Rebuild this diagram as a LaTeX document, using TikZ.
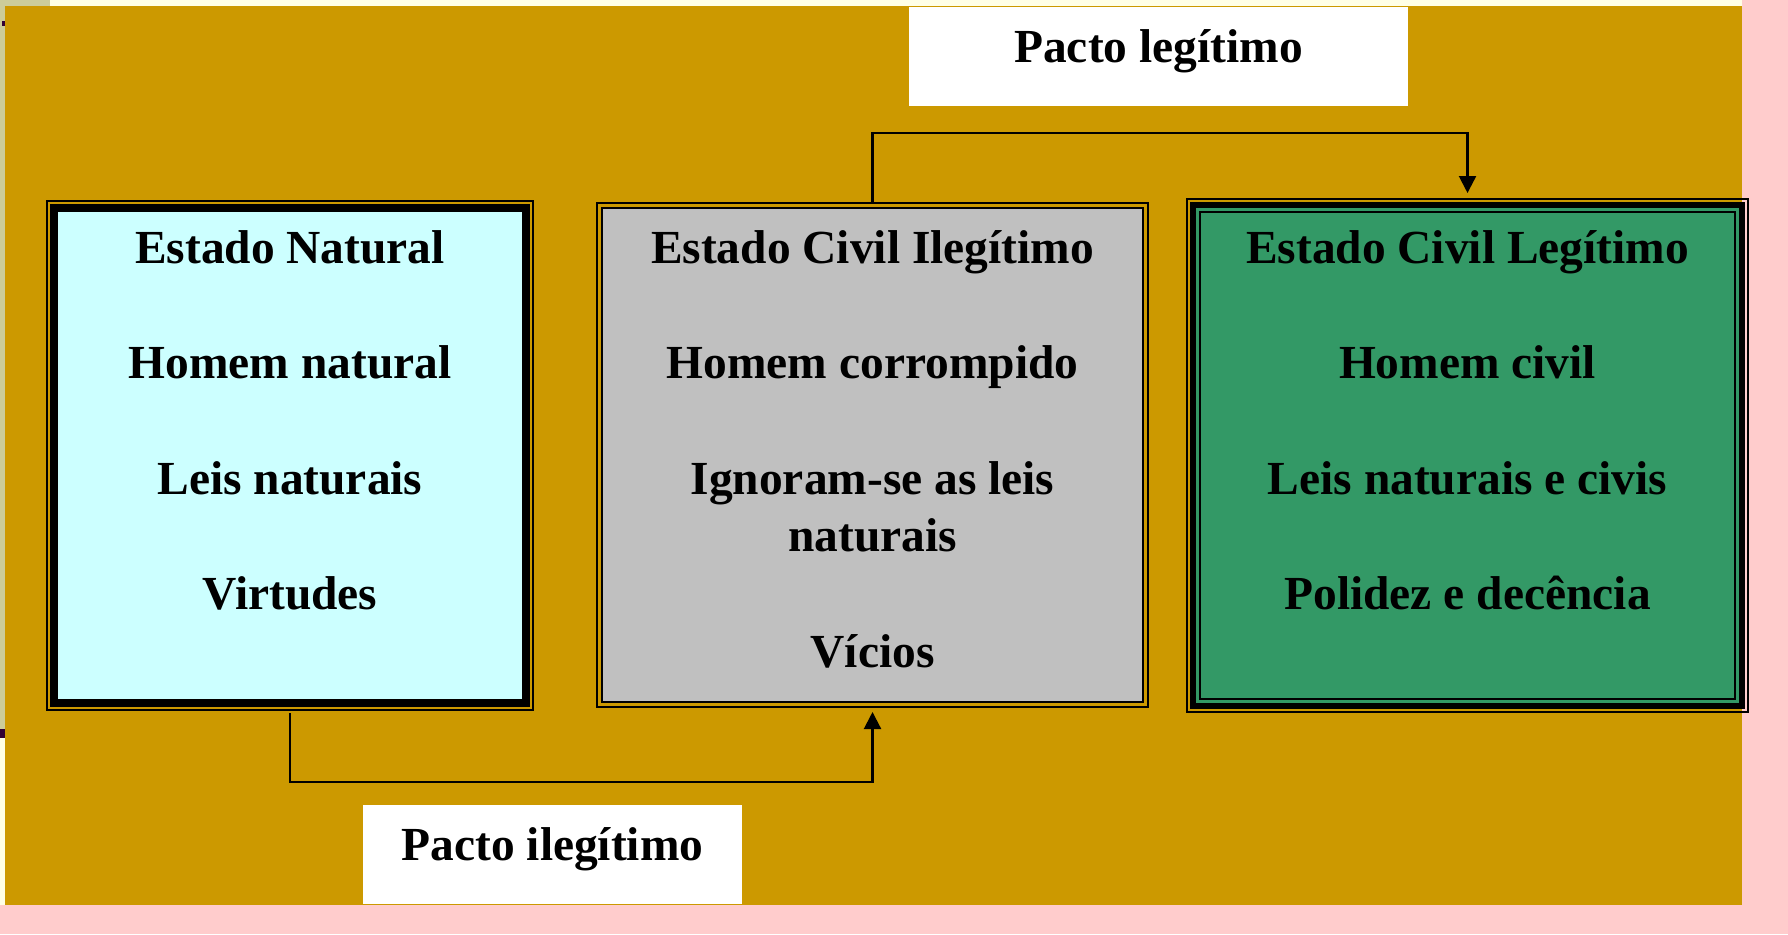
\documentclass[tikz,border=0pt]{standalone}
\usepackage{fontspec}
\setmainfont{Liberation Serif}
\usepackage{xcolor}
\usetikzlibrary{arrows.meta, positioning, calc}

\definecolor{gold}{HTML}{CC9900}
\definecolor{rosa}{HTML}{FFCCCC}
\definecolor{natural}{HTML}{CCFFFF}
\definecolor{ilegit}{HTML}{C0C0C0}
\definecolor{legit}{HTML}{339966}
\definecolor{beige}{HTML}{CCCC99}
\definecolor{cream}{HTML}{FFFFE6}
\definecolor{plum}{HTML}{330033}
\newcommand{\pula}{\\[16.4pt]}

\begin{document}
\begin{tikzpicture}[
    frame/.style={rectangle, draw, line width=0.02cm, outer sep=0pt, inner sep=0pt},
    txt/.style={font=\bfseries\fontsize{13.5}{16.4}\selectfont, align=center, inner sep=0pt},
    pacto/.style={rectangle, fill=white, minimum width=#1, minimum height=0.99cm, inner sep=0pt, text height=0.6em, text depth=0.285em, font=\bfseries\fontsize{13.5}{16.4}\selectfont},
    link/.style={-{Triangle[width=0.17cm, length=0.17cm]}, line width=0.022cm}
]
    \useasboundingbox (0,0) rectangle (17.88,9.34);
    \fill[rosa] (0,0) rectangle (17.88,9.34);
    \fill[cream] (0,9.28) rectangle (17.42,9.34);
    \fill[beige] (0,9.28) rectangle (0.5,9.34);
    \fill[beige] (0,2.05) rectangle (0.05,9.34);
    \fill[plum] (0,1.96) rectangle (0.05,2.05);
    \fill[cream] (0,0.29) rectangle (0.05,1.96);
    \fill[plum] (0.02,9.08) rectangle (0.05,9.13);
    \fill[gold] (0.05,0.29) rectangle (17.42,9.28);

    \node[frame, minimum width=4.86cm, minimum height=5.09cm] (natural) at (2.90,4.785) {};
    \draw[line width=0.08cm, fill=natural] ($(natural.north west)+(0.07,-0.07)$) rectangle ($(natural.south east)+(-0.07,0.07)$);

    \node[frame, minimum width=5.51cm, minimum height=5.04cm] (ilegitimo) at (8.725,4.79) {};
    \draw[line width=0.02cm, fill=ilegit] ($(ilegitimo.north west)+(0.05,-0.05)$) rectangle ($(ilegitimo.south east)+(-0.05,0.05)$);

    \node[frame, minimum width=5.61cm, minimum height=5.13cm] (legitimo) at (14.675,4.785) {};
    \draw[line width=0.06cm, fill=legit] ($(legitimo.north west)+(0.06,-0.06)$) rectangle ($(legitimo.south east)+(-0.06,0.06)$);
    \draw[line width=0.02cm] ($(legitimo.north west)+(0.13,-0.13)$) rectangle ($(legitimo.south east)+(-0.13,0.13)$);

    \node[txt, below=0.29cm of natural.north] (tnatural) {Estado Natural\pula Homem natural\pula Leis naturais\pula Virtudes};
    \node[txt, below=0.27cm of ilegitimo.north] (tilegitimo) {Estado Civil Ilegítimo\pula Homem corrompido\pula Ignoram-se as leis\\naturais\pula Vícios};
    \node[txt, below=0.31cm of legitimo.north] (tlegitimo) {Estado Civil Legítimo\pula Homem civil\pula Leis naturais e civis\pula Polidez e decência};

    \node[pacto=4.99cm] (plegit) at (11.585,8.775) {Pacto legítimo};
    \node[pacto=3.79cm] (pilegit) at (5.525,0.795) {Pacto ilegítimo};

    \draw[link] (ilegitimo.north) -- ++(0,0.70) -| ([yshift=0.06cm]legitimo.north);
    \draw[link] ([yshift=-0.03cm]natural.south) -- ++(0,-0.69) -| ([yshift=-0.05cm]ilegitimo.south);
\end{tikzpicture}
\end{document}
